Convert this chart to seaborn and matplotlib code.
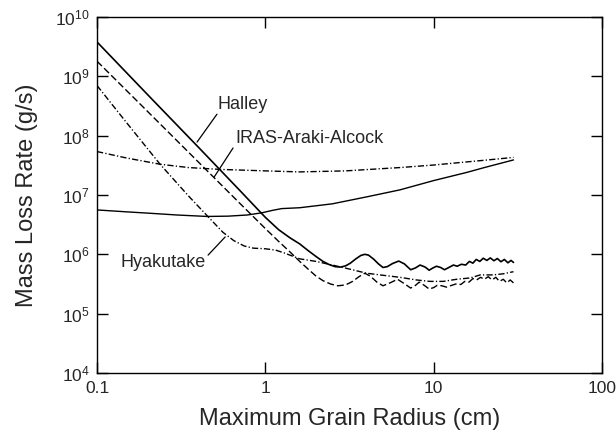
import numpy as np
import pandas as pd
import matplotlib
matplotlib.use("Agg")
import matplotlib.pyplot as plt
import seaborn as sns

# Maximum grain radius (cm) and mass loss rate (g/s) for each curve
halley_x = [0.1, 0.2, 0.4, 0.7, 1.0, 1.2, 1.4, 1.6, 1.8, 2.0, 2.2, 2.4, 2.6, 2.8,
            3.0, 3.2, 3.45, 3.7, 3.9, 4.1, 4.4, 4.7, 5.0, 5.3, 5.7, 6.2, 6.7, 7.3,
            7.8, 8.3, 8.9, 9.4, 9.9, 10.4, 11.0, 11.6, 12.3, 13.1, 13.8, 14.6,
            15.5, 16.3, 17.1, 17.9, 18.8, 19.7, 20.7, 21.7, 22.8, 23.9, 25.1,
            26.3, 27.6, 28.8, 29.8]
halley_y = [3.8e9, 4.9e8, 6.4e7, 1.22e7, 4.2e6, 2.6e6, 1.9e6, 1.5e6, 1.15e6, 9.2e5,
            7.6e5, 6.7e5, 6.2e5, 6.1e5, 6.4e5, 7.1e5, 8.4e5, 9.6e5, 1.0e6, 9.7e5,
            8.3e5, 6.9e5, 6.0e5, 6.2e5, 7.0e5, 7.7e5, 6.9e5, 5.5e5, 5.9e5, 6.6e5,
            6.1e5, 5.4e5, 5.9e5, 6.3e5, 6.0e5, 5.5e5, 6.0e5, 6.6e5, 6.3e5, 6.8e5,
            6.6e5, 7.6e5, 7.1e5, 8.2e5, 7.6e5, 8.6e5, 7.9e5, 8.7e5, 7.8e5, 8.5e5,
            7.5e5, 8.2e5, 7.2e5, 7.9e5, 7.3e5]

iras_x = [0.1, 0.2, 0.4, 0.7, 1.0, 1.2, 1.4, 1.6, 1.8, 2.0, 2.2, 2.45, 2.7, 3.0,
          3.3, 3.6, 3.9, 4.2, 4.6, 5.0, 5.5, 6.1, 6.7, 7.3, 7.8, 8.2, 8.8, 9.4,
          10.0, 10.5, 11.2, 11.9, 12.8, 13.7, 14.5, 15.3, 16.2, 17.1, 18.0, 19.0,
          20.0, 21.1, 22.2, 23.4, 24.6, 25.9, 27.2, 28.5, 29.8]
iras_y = [1.8e9, 2.55e8, 3.6e7, 7.4e6, 2.72e6, 1.65e6, 1.1e6, 7.6e5, 5.6e5, 4.3e5,
          3.6e5, 3.15e5, 2.95e5, 3.05e5, 3.5e5, 4.2e5, 4.8e5, 4.3e5, 3.4e5, 2.95e5,
          3.3e5, 3.8e5, 3.2e5, 2.7e5, 3.0e5, 3.4e5, 3.0e5, 2.6e5, 2.75e5, 3.0e5,
          2.95e5, 2.8e5, 3.0e5, 3.2e5, 3.1e5, 3.5e5, 3.4e5, 3.9e5, 3.7e5, 4.1e5,
          3.8e5, 4.2e5, 3.7e5, 4.1e5, 3.5e5, 3.8e5, 3.3e5, 3.7e5, 3.3e5]

hyakutake_x = [0.1, 0.15, 0.237, 0.35, 0.457, 0.56, 0.65, 0.75, 0.85, 1.0, 1.15,
               1.3, 1.6, 2.0, 2.5, 3.2, 4.0, 4.8, 6.3, 7.9, 9.5, 11.4, 13.7, 16.5,
               18.9, 22.6, 25.9, 29.8]
hyakutake_y = [7.0e8, 1.65e8, 3.3e7, 9.6e6, 4.3e6, 2.35e6, 1.7e6, 1.38e6, 1.27e6,
               1.24e6, 1.18e6, 1.05e6, 8.4e5, 7.6e5, 6.6e5, 5.6e5, 4.8e5, 4.5e5,
               4.1e5, 3.7e5, 3.5e5, 3.5e5, 3.8e5, 4.0e5, 4.5e5, 4.5e5, 4.7e5, 5.1e5]

upper_solid_x = [0.1, 0.15, 0.2, 0.3, 0.45, 0.6, 0.78, 0.95, 1.1, 1.25, 1.6, 2.5,
                 4.0, 6.3, 10.0, 15.7, 20.0, 29.8]
upper_solid_y = [5.6e6, 5.2e6, 4.95e6, 4.6e6, 4.35e6, 4.4e6, 4.6e6, 5.0e6, 5.5e6,
                 5.9e6, 6.1e6, 7.1e6, 9.3e6, 1.22e7, 1.75e7, 2.4e7, 2.9e7, 3.9e7]

upper_dashdot_x = [0.1, 0.15, 0.237, 0.35, 0.54, 1.0, 1.6, 3.0, 6.3, 10.0, 20.0, 29.8]
upper_dashdot_y = [5.4e7, 4.2e7, 3.3e7, 2.9e7, 2.7e7, 2.55e7, 2.45e7, 2.55e7, 2.9e7,
                   3.2e7, 3.85e7, 4.3e7]

sns.set_style("ticks")
plt.rcParams["font.family"] = ["Liberation Sans", "DejaVu Sans"]
plt.rcParams["mathtext.fontset"] = "custom"
plt.rcParams["mathtext.rm"] = "Liberation Sans"
plt.rcParams["mathtext.it"] = "Liberation Sans"

fig = plt.figure(figsize=(6.16, 4.43), dpi=100)
ax = fig.add_axes([97 / 616, 1 - 373 / 443, 505 / 616, 356 / 443])

dashed = (0, (5, 2.2))
dashdot = (0, (4.5, 1.6, 0.9, 1.6))

curves = [
    (halley_x, halley_y, "-", 1.2),
    (iras_x, iras_y, dashed, 1.0),
    (hyakutake_x, hyakutake_y, dashdot, 1.0),
    (upper_solid_x, upper_solid_y, "-", 1.0),
    (upper_dashdot_x, upper_dashdot_y, dashdot, 1.0),
]
for xs, ys, ls, lw in curves:
    df = pd.DataFrame({"radius": xs, "rate": ys})
    sns.lineplot(data=df, x="radius", y="rate", ax=ax, color="black",
                 linestyle=ls, linewidth=lw, estimator=None, sort=False)

ax.set_xscale("log")
ax.set_yscale("log")
ax.set_xlim(0.1, 100)
ax.set_ylim(1e4, 1e10)
ax.xaxis.set_major_locator(matplotlib.ticker.LogLocator(base=10, numticks=10))
ax.yaxis.set_major_locator(matplotlib.ticker.LogLocator(base=10, numticks=10))
ax.xaxis.set_minor_locator(matplotlib.ticker.NullLocator())
ax.yaxis.set_minor_locator(matplotlib.ticker.NullLocator())
ax.xaxis.set_major_formatter(matplotlib.ticker.FuncFormatter(lambda v, p: f"{v:g}"))

ax.tick_params(which="major", direction="in", length=8, width=1.0,
               top=True, right=True, labelsize=12.5, color="black")
ax.tick_params(axis="x", pad=6)
ax.tick_params(axis="y", pad=5)
for s in ax.spines.values():
    s.set_linewidth(1.0)
    s.set_color("black")

ax.set_xlabel("Maximum Grain Radius (cm)", fontsize=17, va="center")
ax.set_ylabel("Mass Loss Rate (g/s)", fontsize=17, va="center")
ax.xaxis.set_label_coords(0.5, (373 - 419) / 356)
ax.yaxis.set_label_coords((27 - 97) / 505, 0.5)

# curve labels with leader lines
ax.text(0.736, 3.3e8, "Halley", fontsize=13, ha="center", va="center")
ax.plot([0.516, 0.393], [2.3e8, 7.8e7], color="black", lw=0.9)
ax.text(0.66, 8.8e7, "IRAS-Araki-Alcock", fontsize=13, ha="left", va="center")
ax.plot([0.643, 0.496], [6.2e7, 2.0e7], color="black", lw=0.9)
ax.text(0.137, 7.4e5, "Hyakutake", fontsize=13, ha="left", va="center")
ax.plot([0.457, 0.577], [9.7e5, 1.96e6], color="black", lw=0.9)

fig.savefig("out.png", dpi=100)
